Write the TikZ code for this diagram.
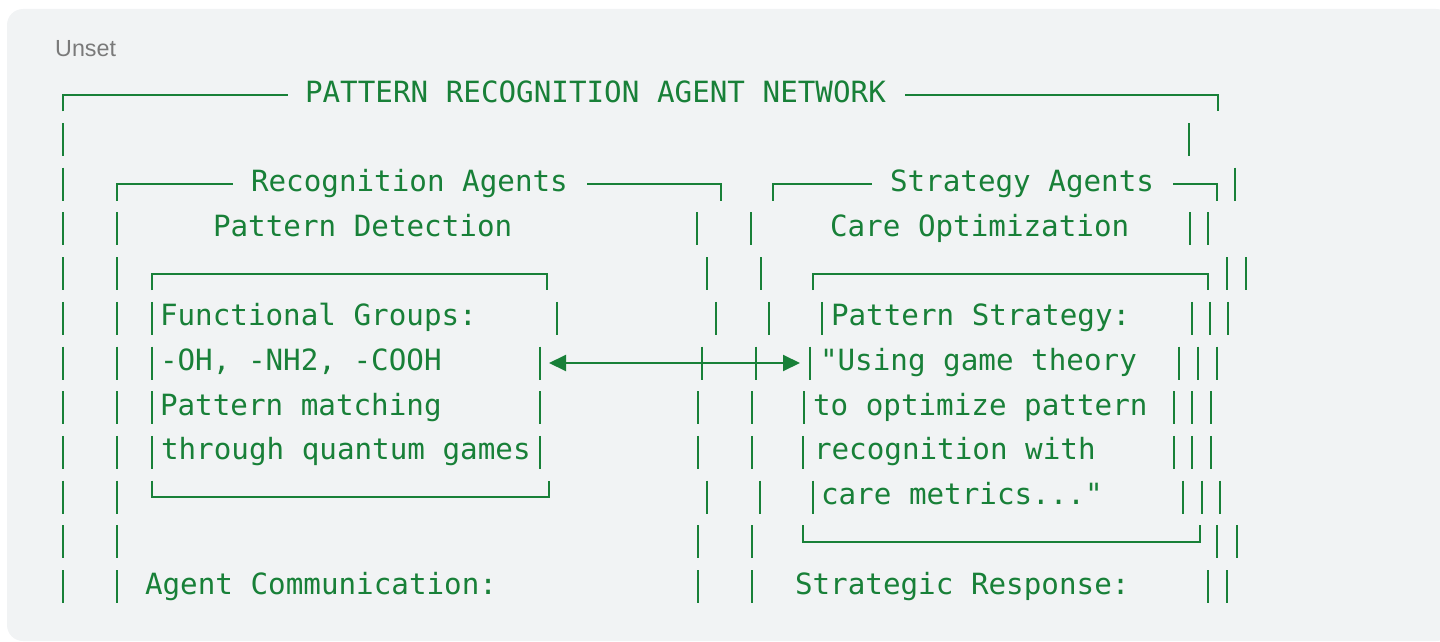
\documentclass[tikz,border=0pt]{standalone}
\usepackage{fontspec}
\newfontfamily\codefont{DejaVu Sans Mono}
\newfontfamily\labelfont{Liberation Sans}
\usetikzlibrary{arrows.meta}
\definecolor{codegreen}{HTML}{188038}
\definecolor{panelgrey}{HTML}{F1F3F4}
\definecolor{labelgrey}{HTML}{7A7A7A}
\newcommand\rowm[1]{(94.8+44.7*(#1))}
\newcommand\vbarat[2]{\draw[bar] (#1,{\rowm{#2}-16.5}) -- (#1,{\rowm{#2}+16.5});}
\begin{document}
\begin{tikzpicture}[x=1pt,y=-1pt,
  txt/.style={anchor=base west, inner sep=0pt, outer sep=0pt, text=codegreen,
    font=\codefont\fontsize{29.24}{35}\selectfont},
  bar/.style={draw=codegreen, line width=2pt, line cap=butt, line join=miter},
  tiparrow/.style={bar, {Triangle[length=17pt,width=16pt]}-{Triangle[length=17pt,width=16pt]}},
  lbl/.style={anchor=base west, inner sep=0pt, text=labelgrey,
    font=\labelfont\fontsize{23.3}{28}\selectfont}]
\useasboundingbox (0,0) rectangle (1440,642);
\fill[panelgrey, rounded corners=16pt] (7,9) rectangle (1452,641);
\node[lbl] (unset) at (55,56.7) {Unset};

% ---------- row 0 : outer frame top
\draw[bar] (63,{\rowm{0}+16.5}) -- (63,{\rowm{0}}) -- (288,{\rowm{0}});
\node[txt] (title) at (305,{\rowm{0}+7.5}) {PATTERN RECOGNITION AGENT NETWORK};
\draw[bar] (905,{\rowm{0}}) -- (1218,{\rowm{0}}) -- (1218,{\rowm{0}+16.5});

% ---------- row 1
\vbarat{63}{1}\vbarat{1189}{1}

% ---------- row 2
\vbarat{63}{2}
\draw[bar] (117,{\rowm{2}+16.5}) -- (117,{\rowm{2}}) -- (233,{\rowm{2}});
\node[txt] (recog) at (251,{\rowm{2}+7.5}) {Recognition Agents};
\draw[bar] (587,{\rowm{2}}) -- (721,{\rowm{2}}) -- (721,{\rowm{2}+16.5});
\draw[bar] (773,{\rowm{2}+16.5}) -- (773,{\rowm{2}}) -- (872,{\rowm{2}});
\node[txt] (strat) at (890,{\rowm{2}+7.5}) {Strategy Agents};
\draw[bar] (1173,{\rowm{2}}) -- (1217,{\rowm{2}}) -- (1217,{\rowm{2}+16.5});
\vbarat{1235}{2}

% ---------- row 3
\vbarat{63}{3}\vbarat{117}{3}
\node[txt] (pdet) at (213,{\rowm{3}+7.5}) {Pattern Detection};
\vbarat{697}{3}\vbarat{751}{3}
\node[txt] (care) at (830,{\rowm{3}+7.5}) {Care Optimization};
\vbarat{1190}{3}\vbarat{1208}{3}

% ---------- row 4
\vbarat{63}{4}\vbarat{117}{4}
\draw[bar] (152,{\rowm{4}+16.5}) -- (152,{\rowm{4}}) -- (547,{\rowm{4}}) -- (547,{\rowm{4}+16.5});
\vbarat{707}{4}\vbarat{761}{4}
\draw[bar] (813,{\rowm{4}+16.5}) -- (813,{\rowm{4}}) -- (1208,{\rowm{4}}) -- (1208,{\rowm{4}+16.5});
\vbarat{1227}{4}\vbarat{1246}{4}

% ---------- row 5
\vbarat{63}{5}\vbarat{117}{5}\vbarat{152}{5}
\node[txt] (fg) at (160,{\rowm{5}+7.5}) {Functional Groups:};
\vbarat{557}{5}
\vbarat{716}{5}\vbarat{769}{5}
\vbarat{822}{5}
\node[txt] (ps) at (831,{\rowm{5}+7.5}) {Pattern Strategy:};
\vbarat{1192}{5}\vbarat{1210}{5}\vbarat{1228}{5}

% ---------- row 6
\vbarat{63}{6}\vbarat{117}{6}\vbarat{152}{6}
\node[txt] (oh) at (160,{\rowm{6}+7.5}) {-OH, -NH2, -COOH};
\vbarat{539.5}{6}
\coordinate (arL) at (549,{\rowm{6}});
\coordinate (arR) at (800,{\rowm{6}});
\draw[tiparrow] (arL) -- (arR);
\vbarat{701.5}{6}\vbarat{756}{6}
\vbarat{809.5}{6}
\node[txt] (using) at (820,{\rowm{6}+7.5}) {"Using game theory};
\vbarat{1179}{6}\vbarat{1198}{6}\vbarat{1217}{6}

% ---------- row 7
\vbarat{63}{7}\vbarat{117}{7}\vbarat{152}{7}
\node[txt] (pm) at (160,{\rowm{7}+7.5}) {Pattern matching};
\vbarat{540}{7}
\vbarat{698}{7}\vbarat{752}{7}
\vbarat{804}{7}
\node[txt] (opt) at (813,{\rowm{7}+7.5}) {to optimize pattern};
\vbarat{1174}{7}\vbarat{1192}{7}\vbarat{1211}{7}

% ---------- row 8
\vbarat{63}{8}\vbarat{117}{8}\vbarat{152}{8}
\node[txt] (tqg) at (161,{\rowm{8}+7.5}) {through quantum games};
\vbarat{540}{8}
\vbarat{698}{8}\vbarat{752}{8}
\vbarat{803}{8}
\node[txt] (rw) at (814,{\rowm{8}+7.5}) {recognition with};
\vbarat{1174}{8}\vbarat{1192}{8}\vbarat{1211}{8}

% ---------- row 9
\vbarat{63}{9}\vbarat{117}{9}
\draw[bar] (152,{\rowm{9}-16.5}) -- (152,{\rowm{9}}) -- (549,{\rowm{9}}) -- (549,{\rowm{9}-16.5});
\vbarat{707}{9}\vbarat{760}{9}
\vbarat{813}{9}
\node[txt] (cm) at (821,{\rowm{9}+7.5}) {care metrics..."};
\vbarat{1183}{9}\vbarat{1202}{9}\vbarat{1220}{9}

% ---------- row 10
\vbarat{63}{10}\vbarat{117}{10}
\vbarat{698}{10}\vbarat{752}{10}
\draw[bar] (803,{\rowm{10}-16.5}) -- (803,{\rowm{10}}) -- (1200,{\rowm{10}}) -- (1200,{\rowm{10}-16.5});
\vbarat{1217}{10}\vbarat{1237}{10}

% ---------- row 11
\vbarat{63}{11}\vbarat{117}{11}
\node[txt] (ac) at (145,{\rowm{11}+7.5}) {Agent Communication:};
\vbarat{698}{11}\vbarat{752}{11}
\node[txt] (sr) at (795,{\rowm{11}+7.5}) {Strategic Response:};
\vbarat{1208}{11}\vbarat{1227}{11}
\end{tikzpicture}
\end{document}
